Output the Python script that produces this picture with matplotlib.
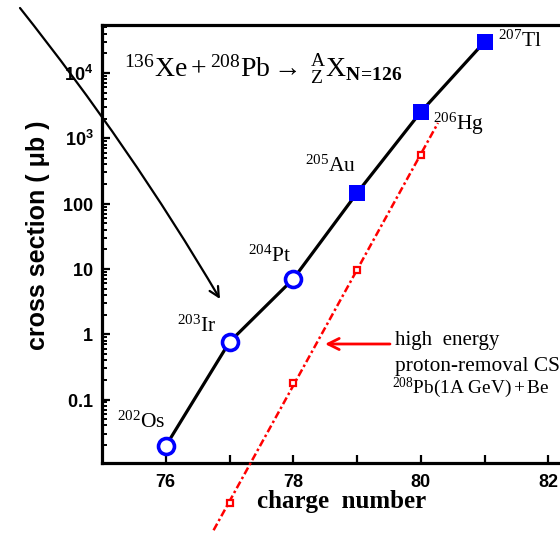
import numpy as np
import matplotlib
matplotlib.use("Agg")
import matplotlib.pyplot as plt
from matplotlib.ticker import FixedLocator, FixedFormatter, LogLocator, NullFormatter

plt.rcParams['mathtext.fontset'] = 'custom'
plt.rcParams['mathtext.rm'] = 'Liberation Serif'
plt.rcParams['mathtext.it'] = 'Liberation Serif:italic'
plt.rcParams['mathtext.bf'] = 'Liberation Serif:bold'
plt.rcParams['mathtext.sf'] = 'Liberation Sans:bold'

# ---- data ----
Z_fusion = [76, 77, 78, 79, 80, 81]
cs_fusion = [0.0194, 0.76, 7.0, 145, 2530, 29900]
isotope_labels = [r'$^{202}\mathrm{Os}$', r'$^{203}\mathrm{Ir}$', r'$^{204}\mathrm{Pt}$',
                  r'$^{205}\mathrm{Au}$', r'$^{206}\mathrm{Hg}$', r'$^{207}\mathrm{Tl}$']
open_marker = [True, True, True, False, False, False]

Z_frag = [77, 78, 79, 80]
cs_frag = [0.0026, 0.179, 9.6, 555]
frag_line_range = [76.75, 80.27]

xticks = [76, 77, 78, 79, 80, 81, 82]
xticklabels = ['76', '', '78', '', '80', '', '82']
yticks = [0.1, 1, 10, 100, 1e3, 1e4]
yticklabels = [r'$\mathsf{0.1}$', r'$\mathsf{1}$', r'$\mathsf{10}$', r'$\mathsf{100}$',
               r'$\mathsf{10^{3}}$', r'$\mathsf{10^{4}}$']

W, H = 560, 541
fig = plt.figure(figsize=(W / 100, H / 100), dpi=100)
ax = fig.add_axes([102 / W, 78 / H, 510 / W, 438 / H])
ax.set_yscale('log')
ax.set_xlim(75, 83)
ax.set_ylim(0.01066, 54300)

# red fragmentation line (fit, extended)
coef = np.polyfit(Z_frag, np.log10(cs_frag), 1)
zz = np.linspace(frag_line_range[0], frag_line_range[1], 50)
ax.plot(zz, 10 ** np.polyval(coef, zz), color='red', lw=1.8, dashes=(3, 1.2, 1, 1.2),
        clip_on=False, zorder=3)
ax.plot(Z_frag, cs_frag, linestyle='none', marker='s', ms=5, mfc='white', mec='red',
        mew=1.6, clip_on=False, zorder=4)

# black line + blue markers
ax.plot(Z_fusion, cs_fusion, color='black', lw=2.3, zorder=5)
for z, c, o in zip(Z_fusion, cs_fusion, open_marker):
    if o:
        ax.plot(z, c, marker='o', ms=11.5, mfc='white', mec='blue', mew=2.6, zorder=6,
                clip_on=False)
    else:
        ax.plot(z, c, marker='s', ms=11, mfc='blue', mec='blue', mew=0, zorder=6,
                clip_on=False)

# isotope labels
offsets = [(0, 14, 'right', 'bottom'), (-13, 6, 'right', 'bottom'), (-2, 13, 'right', 'bottom'),
           (-1, 17, 'right', 'bottom'), (12, 1, 'left', 'top'), (13, 12, 'left', 'top')]
for z, c, lab, (dx, dy, ha, va) in zip(Z_fusion, cs_fusion, isotope_labels, offsets):
    ax.annotate(lab, xy=(z, c), xytext=(dx, dy), textcoords='offset pixels',
                ha=ha, va=va, fontsize=15.5, zorder=7)

# axes styling
for s in ['left', 'bottom', 'top']:
    ax.spines[s].set_linewidth(2.3)
ax.spines['right'].set_visible(False)
ax.xaxis.set_major_locator(FixedLocator(xticks))
ax.xaxis.set_major_formatter(FixedFormatter(xticklabels))
ax.yaxis.set_major_locator(FixedLocator(yticks))
ax.yaxis.set_major_formatter(FixedFormatter(yticklabels))
ax.yaxis.set_minor_locator(LogLocator(base=10, subs=np.arange(2, 10), numticks=20))
ax.yaxis.set_minor_formatter(NullFormatter())
ax.tick_params(axis='x', which='major', direction='in', length=5.5, width=1.6, pad=8,
               labelsize=13)
ax.tick_params(axis='y', which='major', direction='in', length=6, width=1.6, pad=6,
               labelsize=13)
ax.tick_params(axis='y', which='minor', direction='in', length=3.6, width=1.4)
ax.tick_params(top=False, right=False)
for lbl in ax.get_xticklabels():
    lbl.set_fontfamily('Liberation Sans')
    lbl.set_fontweight('bold')

# axis labels
fig.text(38 / W, 1 - 235 / H, 'cross section ( \u03bcb )', rotation=90, ha='center', va='center',
         family='Liberation Sans', fontweight='bold', fontsize=18)
fig.text(342 / W, 1 - 508 / H, 'charge  number', ha='center', va='baseline',
         family='Liberation Serif', fontweight='bold', fontsize=18)

# reaction title
fig.text(124 / W, 1 - 77 / H,
         r'$^{136}\mathrm{Xe}+{}^{208}\mathrm{Pb}\rightarrow\;{}^{\mathrm{A}}_{\mathrm{Z}}\mathrm{X}_{\mathbf{N\!=\!126}}$',
         ha='left', va='baseline', fontsize=20)

# black arrow
fig.add_artist(matplotlib.patches.FancyArrowPatch(
    posA=(20 / W, 1 - 8 / H), posB=(220 / W, 1 - 299 / H), transform=fig.transFigure,
    arrowstyle='->,head_length=0.7,head_width=0.35', connectionstyle='arc3,rad=-0.035',
    lw=1.6, color='black', mutation_scale=10, shrinkA=0, shrinkB=0))

# red arrow + annotation text
fig.add_artist(matplotlib.patches.FancyArrowPatch(
    posA=(390 / W, 1 - 344 / H), posB=(325 / W, 1 - 344 / H), transform=fig.transFigure,
    arrowstyle='->,head_length=0.8,head_width=0.4', lw=2, color='red',
    mutation_scale=10, shrinkA=0, shrinkB=0))
fig.text(395 / W, 1 - 345 / H, 'high  energy', family='Liberation Serif', fontsize=15,
         va='baseline', ha='left')
fig.text(395 / W, 1 - 371 / H, 'proton-removal CS', family='Liberation Serif', fontsize=15.4,
         va='baseline', ha='left')
fig.text(392 / W, 1 - 393 / H, r'$^{208}\mathrm{Pb(1A\ GeV)+Be}$', fontsize=13.9,
         va='baseline', ha='left')

fig.savefig('out.png', dpi=100)
